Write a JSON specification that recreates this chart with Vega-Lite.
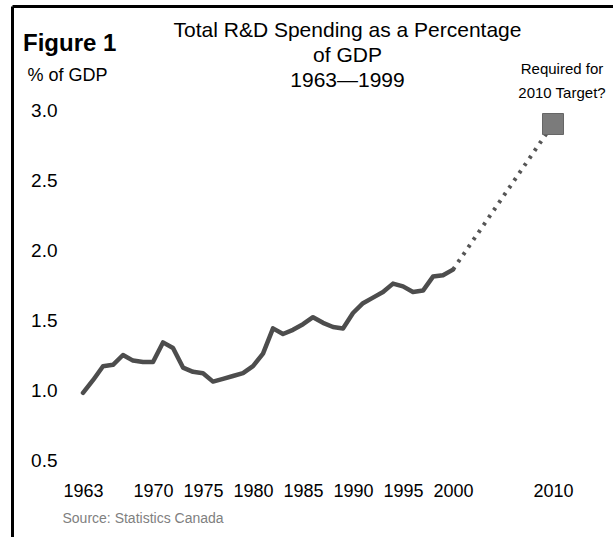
{
  "$schema": "https://vega.github.io/schema/vega-lite/v6.json",
  "autosize": {"type": "none"},
  "padding": {"left": 12, "top": 6, "right": 0, "bottom": 0},
  "width": 601,
  "height": 531,
  "background": "white",
  "config": {"font": "Liberation Sans", "view": {"stroke": null}},
  "title": {
    "text": "Figure 1",
    "anchor": "start",
    "frame": "bounds",
    "offset": -50,
    "dx": 11,
    "fontSize": 24,
    "fontWeight": "bold",
    "color": "#000"
  },
  "datasets": {
    "actual": [
      {"year": 1963, "pct": 0.98}, {"year": 1964, "pct": 1.07}, {"year": 1965, "pct": 1.17},
      {"year": 1966, "pct": 1.18}, {"year": 1967, "pct": 1.25}, {"year": 1968, "pct": 1.21},
      {"year": 1969, "pct": 1.20}, {"year": 1970, "pct": 1.20}, {"year": 1971, "pct": 1.34},
      {"year": 1972, "pct": 1.30}, {"year": 1973, "pct": 1.16}, {"year": 1974, "pct": 1.13},
      {"year": 1975, "pct": 1.12}, {"year": 1976, "pct": 1.06}, {"year": 1977, "pct": 1.08},
      {"year": 1978, "pct": 1.10}, {"year": 1979, "pct": 1.12}, {"year": 1980, "pct": 1.17},
      {"year": 1981, "pct": 1.26}, {"year": 1982, "pct": 1.44}, {"year": 1983, "pct": 1.40},
      {"year": 1984, "pct": 1.43}, {"year": 1985, "pct": 1.47}, {"year": 1986, "pct": 1.52},
      {"year": 1987, "pct": 1.48}, {"year": 1988, "pct": 1.45}, {"year": 1989, "pct": 1.44},
      {"year": 1990, "pct": 1.55}, {"year": 1991, "pct": 1.62}, {"year": 1992, "pct": 1.66},
      {"year": 1993, "pct": 1.70}, {"year": 1994, "pct": 1.76}, {"year": 1995, "pct": 1.74},
      {"year": 1996, "pct": 1.70}, {"year": 1997, "pct": 1.71}, {"year": 1998, "pct": 1.81},
      {"year": 1999, "pct": 1.82}, {"year": 2000, "pct": 1.86}
    ],
    "projection": [
      {"year": 2000, "pct": 1.86}, {"year": 2010, "pct": 2.9}
    ],
    "target": [
      {"year": 2010, "pct": 2.9, "label": "Required for\n2010 Target?"}
    ]
  },
  "layer": [
    {
      "data": {"name": "actual"},
      "mark": {"type": "line", "color": "#4d4d4d", "strokeWidth": 4.5, "strokeJoin": "round", "strokeCap": "round"},
      "encoding": {
        "x": {
          "field": "year", "type": "quantitative",
          "scale": {"domain": [1955.9, 2016], "nice": false, "zero": false},
          "axis": {
            "orient": "bottom",
            "values": [1963, 1970, 1975, 1980, 1985, 1990, 1995, 2000, 2010],
            "format": "d",
            "domain": false, "ticks": false, "grid": false,
            "labelPadding": -55, "labelFontSize": 18, "labelColor": "#000",
            "labelBaseline": "top", "labelOverlap": false, "labelFlush": false,
            "title": "Source: Statistics Canada",
            "titleFontSize": 14, "titleFontWeight": "normal", "titleColor": "#808080",
            "titleAlign": "left", "titleBaseline": "middle", "titleX": 50, "titleY": -19
          }
        },
        "y": {
          "field": "pct", "type": "quantitative",
          "scale": {"domain": [-0.05, 3.7429], "nice": false, "zero": false},
          "axis": {
            "orient": "left",
            "values": [0.5, 1, 1.5, 2, 2.5, 3],
            "format": ".1f",
            "domain": true, "domainColor": "#000000", "domainWidth": 3, "domainOpacity": 1,
            "ticks": false, "grid": false,
            "labelPadding": -45, "labelFontSize": 19, "labelColor": "#000",
            "labelBaseline": "middle", "labelOverlap": false, "labelFlush": false,
            "title": "% of GDP",
            "titleAngle": 0, "titleAlign": "left", "titleBaseline": "middle",
            "titleX": 15, "titleY": 69, "titleFontSize": 18, "titleFontWeight": "normal",
            "titleColor": "#000"
          }
        }
      }
    },
    {
      "data": {"name": "projection"},
      "mark": {"type": "line", "color": "#555555", "strokeWidth": 4, "strokeDash": [3, 6]},
      "encoding": {
        "x": {
          "field": "year", "type": "quantitative",
          "axis": {
            "orient": "top",
            "labels": false, "ticks": false, "grid": false,
            "domain": true, "domainColor": "#000000", "domainWidth": 3, "domainOpacity": 1,
            "title": ["Total R&D Spending as a Percentage", "of GDP", "1963\u20141999"],
            "titleFontSize": 21, "titleFontWeight": "normal", "titleColor": "#000",
            "titleAlign": "center", "titleBaseline": "top", "titleX": 335, "titleY": 13,
            "titleLineHeight": 25
          }
        },
        "y": {"field": "pct", "type": "quantitative", "axis": null}
      }
    },
    {
      "data": {"name": "target"},
      "mark": {"type": "point", "shape": "square", "filled": true, "size": 441, "color": "#7b7b7b", "stroke": "#666666", "strokeWidth": 1, "opacity": 1},
      "encoding": {
        "x": {"field": "year", "type": "quantitative", "axis": null},
        "y": {"field": "pct", "type": "quantitative", "axis": null}
      }
    },
    {
      "data": {"name": "target"},
      "mark": {"type": "text", "fontSize": 15, "align": "center", "baseline": "top", "dx": 9, "dy": -62, "lineBreak": "\n", "lineHeight": 24, "color": "#000"},
      "encoding": {
        "x": {"field": "year", "type": "quantitative", "axis": null},
        "y": {"field": "pct", "type": "quantitative", "axis": null},
        "text": {"field": "label"}
      }
    }
  ],
  "resolve": {"axis": {"x": "independent", "y": "independent"}}
}
